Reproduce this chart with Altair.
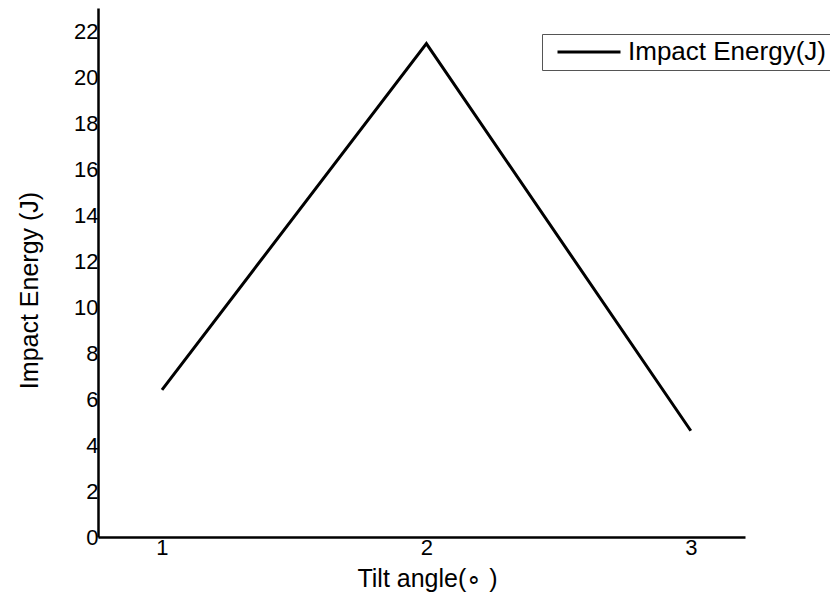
import altair as alt
import pandas as pd

tilt_angle = [1, 2, 3]
impact_energy = [6.4, 21.45, 4.62]
series_name = ["Impact Energy(J)"] * 3
x_ticks = [1, 2, 3]
y_ticks = [0, 2, 4, 6, 8, 10, 12, 14, 16, 18, 20, 22]

df = pd.DataFrame({"tilt": tilt_angle, "energy": impact_energy, "series": series_name})

FONT = "Liberation Sans"

chart = alt.Chart(df).mark_line(color="black", strokeWidth=3).encode(
    x=alt.X("tilt:Q",
            scale=alt.Scale(domain=[0.758, 3.205], nice=False, zero=False),
            axis=alt.Axis(values=x_ticks, format="d", title="Tilt angle(\u2218 )",
                          grid=False, ticks=False, labelPadding=0,
                          domainColor="black", domainWidth=2.5,
                          labelFont=FONT, labelFontSize=22, labelColor="black",
                          titleFont=FONT, titleFontSize=25, titleFontWeight="normal",
                          titleColor="black", titleX=329, titleY=49,
                          titleBaseline="alphabetic", titleAlign="center")),
    y=alt.Y("energy:Q",
            scale=alt.Scale(domain=[0, 23], nice=False),
            axis=alt.Axis(values=y_ticks, title="Impact Energy (J)",
                          grid=False, ticks=False, labelPadding=0,
                          domainColor="black", domainWidth=2.5,
                          labelFont=FONT, labelFontSize=22, labelColor="black",
                          titleFont=FONT, titleFontSize=25, titleFontWeight="normal",
                          titleColor="black", titleX=-69, titleY=282,
                          titleBaseline="middle", titleAlign="center", titleAngle=270)),
    color=alt.Color("series:N", scale=alt.Scale(range=["black"]),
                    legend=alt.Legend(title=None, orient="none", legendX=444, legendY=26,
                                      symbolType="M-1,0H5", symbolSize=441,
                                      symbolStrokeWidth=3, symbolOffset=8,
                                      labelOffset=47, labelLimit=500,
                                      labelFont=FONT, labelFontSize=26, labelColor="black",
                                      strokeColor="#555555", padding=5)),
).properties(
    width=647, height=529,
    autosize=alt.AutoSizeParams(type="none"),
    padding={"left": 90, "top": 0, "right": 85, "bottom": 56},
).configure_view(stroke=None)

chart.save("out.html", embed_options={"renderer": "svg", "actions": False})
